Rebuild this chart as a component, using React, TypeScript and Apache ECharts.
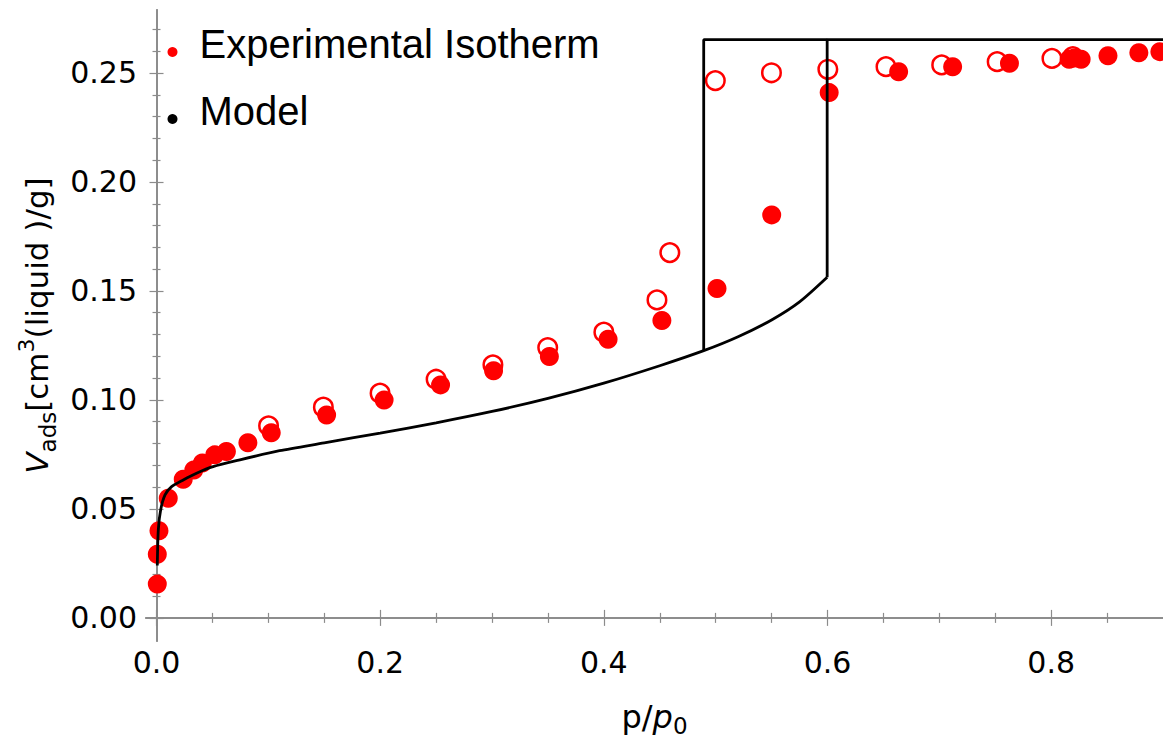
import React, { useEffect, useRef } from 'react';
import * as echarts from 'echarts';

// ---- data ----
const adsX = [0.0007, 0.0007, 0.0022, 0.0105, 0.0239, 0.0334, 0.041, 0.0521, 0.0625, 0.0817, 0.1026, 0.1521, 0.2035, 0.254, 0.3014, 0.3513, 0.4038, 0.4519, 0.5012, 0.5501, 0.6015, 0.6636, 0.7119, 0.7627, 0.8161, 0.8208, 0.8268, 0.8508, 0.8784, 0.8972];
const adsY = [0.0155, 0.0292, 0.04, 0.0549, 0.0636, 0.0679, 0.0711, 0.0748, 0.0763, 0.0804, 0.0849, 0.0931, 0.1, 0.1069, 0.1134, 0.1199, 0.1278, 0.1364, 0.1511, 0.1849, 0.241, 0.2506, 0.2529, 0.2545, 0.2563, 0.2569, 0.2563, 0.2579, 0.2593, 0.2598];

const desX = [0.1002, 0.1492, 0.1999, 0.25, 0.3008, 0.3498, 0.4, 0.4475, 0.459, 0.4997, 0.5499, 0.6003, 0.6523, 0.7021, 0.7517, 0.8007, 0.8194];
const desY = [0.0881, 0.0967, 0.1031, 0.1095, 0.1161, 0.124, 0.1311, 0.1459, 0.1676, 0.2465, 0.2501, 0.2517, 0.2529, 0.2537, 0.2552, 0.2567, 0.2575];

const modelCurveX = [0.0007, 0.0016, 0.0037, 0.0076, 0.0135, 0.0239, 0.0358, 0.0506, 0.0744, 0.11, 0.15, 0.2, 0.25, 0.3, 0.35, 0.4, 0.45, 0.4893, 0.52, 0.55, 0.575, 0.5997];
const modelCurveY = [0.024, 0.0404, 0.0495, 0.0564, 0.0602, 0.0633, 0.0664, 0.0694, 0.0725, 0.0767, 0.0803, 0.0848, 0.0895, 0.0947, 0.1007, 0.1077, 0.1157, 0.1226, 0.129, 0.1367, 0.145, 0.1563];

const modelAdsStepX = [0.5997, 0.5997, 0.9];
const modelAdsStepY = [0.1563, 0.2653, 0.2653];
const modelDesStepX = [0.4893, 0.4893, 0.5997];
const modelDesStepY = [0.1226, 0.2653, 0.2653];

const xMajorTicks = [0, 0.2, 0.4, 0.6, 0.8];
const xMinorTicks = [0.05, 0.1, 0.15, 0.25, 0.3, 0.35, 0.45, 0.5, 0.55, 0.65, 0.7, 0.75, 0.85];
const yMajorTicks = [0, 0.05, 0.1, 0.15, 0.2, 0.25];
const yMinorTicks = [0.01, 0.02, 0.03, 0.04, 0.06, 0.07, 0.08, 0.09, 0.11, 0.12, 0.13, 0.14, 0.16, 0.17, 0.18, 0.19, 0.21, 0.22, 0.23, 0.24, 0.26, 0.27];

const X_MIN = -0.0094;
const X_MAX = 0.9;
const Y_MIN = -0.0106;
const Y_MAX = 0.2789;

const FONT = 'DejaVu Sans';
const LEGEND_FONT = '"Liberation Sans", Arial, sans-serif';
const FRAME = '#8c8c8c';
const LINE_W = 2.8;

const pairs = (xs: number[], ys: number[]) => xs.map((x, i) => [x, ys[i]]);

function tickAxis(kind: 'x' | 'y', position: string, ticks: number[], len: number, extra: any = {}) {
  return {
    type: 'value',
    min: kind === 'x' ? X_MIN : Y_MIN,
    max: kind === 'x' ? X_MAX : Y_MAX,
    position,
    axisLine: { show: true, lineStyle: { color: FRAME, width: 1.5 } },
    axisTick: { show: true, inside: true, length: len, customValues: ticks, lineStyle: { color: FRAME, width: 1.2 } },
    axisLabel: { show: false },
    splitLine: { show: false },
    ...extra,
  };
}

const modelLine = (data: number[][], smooth: boolean) => ({
  name: 'Model',
  type: 'line',
  showSymbol: false,
  symbol: 'none',
  smooth: smooth ? 0.25 : false,
  color: '#000',
  itemStyle: { color: '#000' },
  lineStyle: { color: '#000', width: LINE_W },
  data,
});

export default function App() {
  const ref = useRef<HTMLDivElement>(null);
  useEffect(() => {
    const chart = echarts.init(ref.current!, null, { renderer: 'svg' });
    const option: any = {
      animation: false,
      backgroundColor: '#fff',
      grid: { left: 146, right: -4, top: 10, bottom: 101, containLabel: false },
      legend: {
        orient: 'vertical',
        left: 167.5,
        top: 23.5,
        padding: 0,
        itemWidth: 44,
        itemHeight: 10,
        itemGap: 27,
        selectedMode: false,
        formatter: (name: string) => `{t|${name}}{s| }`,
        textStyle: {
          fontFamily: LEGEND_FONT,
          fontSize: 40,
          color: '#000',
          rich: {
            t: { fontFamily: LEGEND_FONT, fontSize: 40, lineHeight: 40, verticalAlign: 'top', color: '#000' },
            s: { fontFamily: LEGEND_FONT, fontSize: 8, lineHeight: 57, color: '#000' },
          },
        },
        data: [
          { name: 'Experimental Isotherm', icon: 'circle' },
          { name: 'Model', icon: 'circle' },
        ],
      },
      xAxis: [
        tickAxis('x', 'bottom', xMajorTicks, 8, {
          axisLabel: {
            show: true,
            customValues: xMajorTicks,
            formatter: (v: number) => v.toFixed(1),
            fontFamily: FONT,
            fontSize: 30,
            color: '#000',
            margin: 6,
          },
          name: '{n|p/}{i|p}{s|0}',
          nameLocation: 'middle',
          nameGap: 56,
          nameTextStyle: {
            color: '#000',
            fontFamily: FONT,
            fontSize: 32,
            rich: {
              n: { fontFamily: FONT, fontSize: 32, lineHeight: 40, color: '#000' },
              i: { fontFamily: FONT, fontSize: 32, lineHeight: 40, fontStyle: 'italic', color: '#000' },
              s: { fontFamily: FONT, fontSize: 23, lineHeight: 23, verticalAlign: 'bottom', color: '#000' },
            },
          },
        }),
        tickAxis('x', 'bottom', xMinorTicks, 5),
        tickAxis('x', 'top', xMajorTicks, 8),
        tickAxis('x', 'top', xMinorTicks, 5),
      ],
      yAxis: [
        tickAxis('y', 'left', yMajorTicks, 7, {
          axisLabel: {
            show: true,
            customValues: yMajorTicks,
            formatter: (v: number) => v.toFixed(2),
            fontFamily: FONT,
            fontSize: 30,
            color: '#000',
            margin: 9,
          },
          name: '{v|V}{sub|ads}{n|[cm}{sup|3}{n|(liquid )/g]}',
          nameLocation: 'middle',
          nameRotate: 90,
          nameGap: 87,
          nameTextStyle: {
            color: '#000',
            fontFamily: FONT,
            fontSize: 31,
            rich: {
              v: { fontFamily: FONT, fontSize: 31, lineHeight: 44, fontStyle: 'italic', color: '#000' },
              n: { fontFamily: FONT, fontSize: 31, lineHeight: 44, color: '#000' },
              sub: { fontFamily: FONT, fontSize: 23, lineHeight: 23, verticalAlign: 'bottom', color: '#000' },
              sup: { fontFamily: FONT, fontSize: 22, lineHeight: 22, verticalAlign: 'top', color: '#000' },
            },
          },
        }),
        tickAxis('y', 'left', yMinorTicks, 4),
        tickAxis('y', 'right', yMajorTicks, 7),
        tickAxis('y', 'right', yMinorTicks, 4),
      ],
      series: [
        {
          name: 'Desorption',
          type: 'scatter',
          symbol: 'circle',
          symbolSize: 18.5,
          itemStyle: { color: 'rgba(255,255,255,0)', borderColor: '#ff0000', borderWidth: 2.5, opacity: 1 },
          data: pairs(desX, desY),
        },
        {
          name: 'Experimental Isotherm',
          type: 'scatter',
          symbol: 'circle',
          symbolSize: 19,
          itemStyle: { color: '#ff0000', opacity: 1 },
          data: pairs(adsX, adsY),
        },
        modelLine(pairs(modelCurveX, modelCurveY), true),
        modelLine(pairs(modelAdsStepX, modelAdsStepY), false),
        modelLine(pairs(modelDesStepX, modelDesStepY), false),
      ],
    };
    chart.setOption(option);
    return () => chart.dispose();
  }, []);
  return (
    <div
      ref={ref}
      style={{ position: 'fixed', left: 0, top: 0, width: 1163, height: 742, background: '#fff' }}
    />
  );
}
